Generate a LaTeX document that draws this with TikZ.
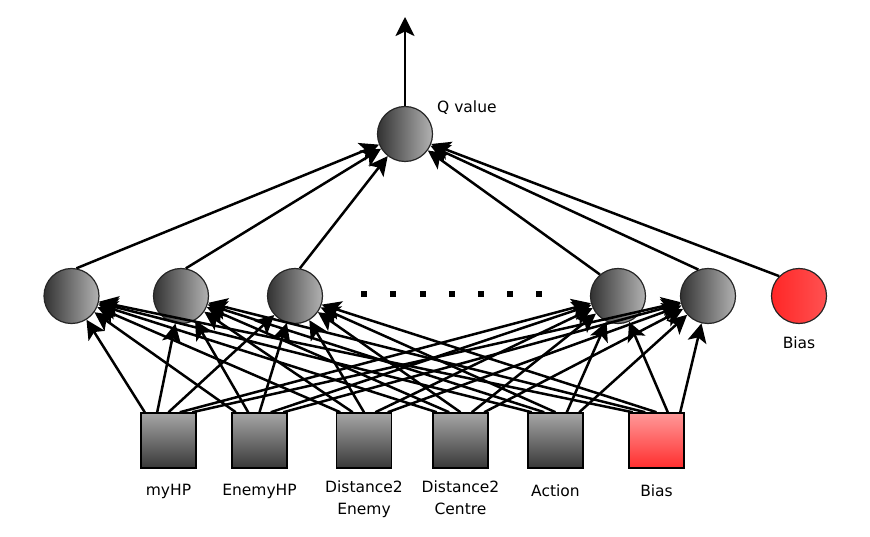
\documentclass[tikz,border=0pt]{standalone}
\usepackage{fontspec}
\setmainfont{DejaVu Sans}
\usetikzlibrary{arrows.meta,calc}
\tikzset{
  neuron/.style={circle,draw=black!85,line width=1.2pt,minimum size=55pt,inner sep=0pt,
    left color=black!80,right color=black!30},
  biasneuron/.style={circle,draw=black!85,line width=1.2pt,minimum size=55pt,inner sep=0pt,
    left color=red!85!white,right color=red!68!white},
  inbox/.style={rectangle,draw=black,line width=1.5pt,minimum size=55pt,inner sep=0pt,
    top color=black!35,bottom color=black!78},
  biasbox/.style={rectangle,draw=black,line width=1.5pt,minimum size=55pt,inner sep=0pt,
    top color=red!40!white,bottom color=red!82!white},
  lbl/.style={font=\fontsize{15.5}{22}\selectfont,align=center,inner sep=0pt},
  dotbox/.style={fill=black,minimum size=6pt,inner sep=0pt},
  arr/.style={line width=2.5pt,-{Stealth[length=19pt,width=19pt,inset=4.5pt]}}
}
\begin{document}
\begin{tikzpicture}[x=1pt,y=-1pt]
\useasboundingbox (0,0) rectangle (870,537);
% output neuron
\node[neuron] (q) at (405,134) {};
\node[lbl,anchor=west] (ql) at (437,108) {Q value};
\coordinate (out) at (405,17);
% hidden
\node[neuron] (h1) at (71.5,296) {};
\node[neuron] (h2) at (181,296) {};
\node[neuron] (h3) at (295,296) {};
\node[neuron] (h4) at (618,296) {};
\node[neuron] (h5) at (708,296) {};
\node[biasneuron] (hb) at (799,296) {};
\node[lbl] (hbl) at (799,343) {Bias};
% dots
\foreach \x [count=\k] in {364,393,423,452,481,510,539}
  \node[dotbox] (d\k) at (\x,294) {};
% inputs
\node[inbox] (in1) at (168.5,440.5) {};
\node[inbox] (in2) at (259.5,440.5) {};
\node[inbox] (in3) at (364,440.5) {};
\node[inbox] (in4) at (460.5,440.5) {};
\node[inbox] (in5) at (555.5,440.5) {};
\node[biasbox] (in6) at (656.5,440.5) {};
\node[lbl] (l1) at (168.5,491) {myHP};
\node[lbl] (l2) at (259.5,491) {EnemyHP};
\node[lbl,anchor=north] (l3) at (364,481) {Distance2\\Enemy};
\node[lbl,anchor=north] (l4) at (460.5,481) {Distance2\\Centre};
\node[lbl] (l5) at (555.5,491) {Action};
\node[lbl] (l6) at (656.5,491) {Bias};
% connections input -> hidden
\foreach \i in {1,...,6}
  \foreach \j/\t in {1/0.08,2/0.3,3/0.5,4/0.7,5/0.92}
    \draw[arr] ($(in\i.north west)!\t!(in\i.north east)$) -- (h\j);
% hidden -> output
\draw[arr] (h1.80) -- (q);
\draw[arr] (h2.80) -- (q);
\draw[arr] (h3.80) -- (q);
\draw[arr] (h4.130) -- (q);
\draw[arr] (h5.110) -- (q);
\draw[arr] (hb.135) -- (q);
\draw[arr] (q) -- (out);
\end{tikzpicture}
\end{document}
